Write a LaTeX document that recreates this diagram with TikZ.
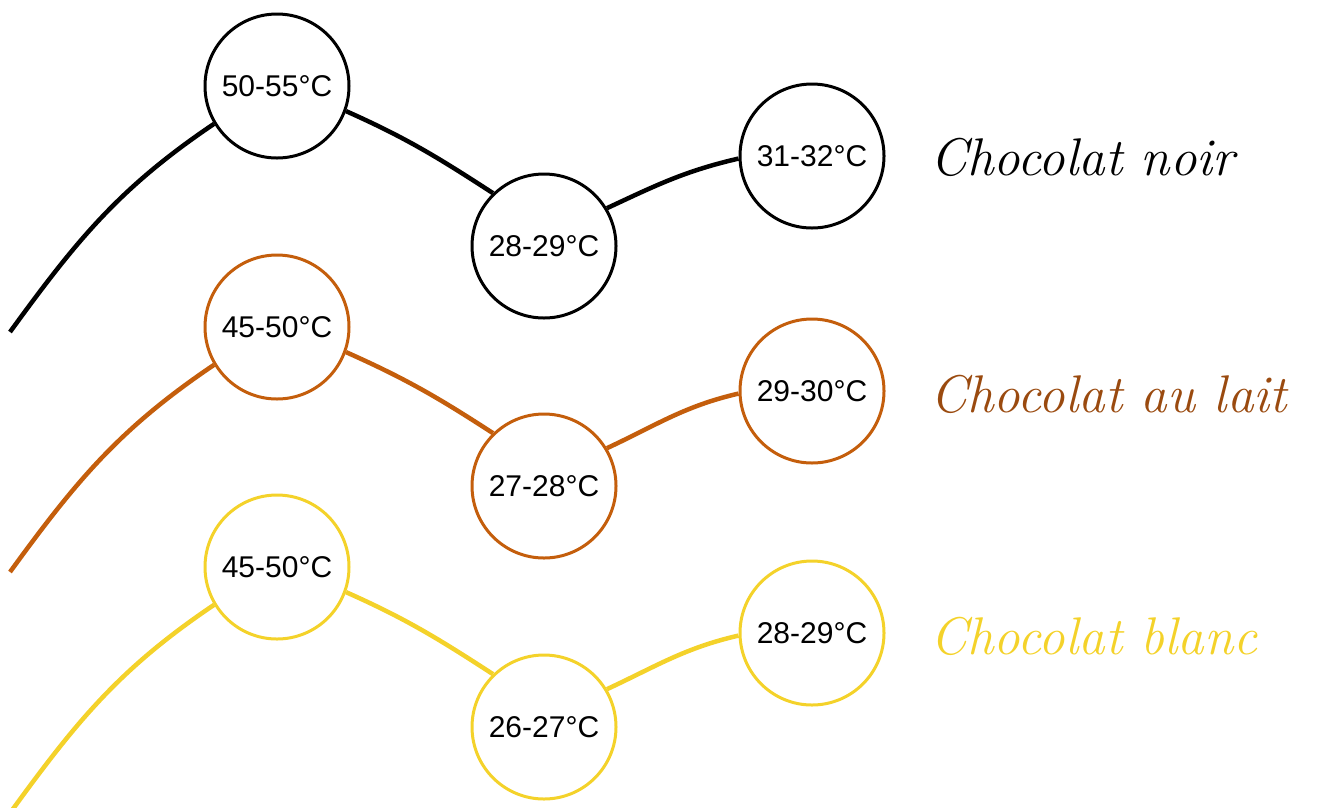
\documentclass[tikz,border=0pt]{standalone}
\usepackage{fontspec}
\setsansfont{Liberation Sans}
\definecolor{noir}{HTML}{000000}
\definecolor{lait}{HTML}{C45E0C}
\definecolor{laittxt}{HTML}{9A4A0F}
\definecolor{blanc}{HTML}{F4D22A}
\begin{document}
\begin{tikzpicture}[x=1pt,y=-1pt,
  temp/.style={circle,draw,line width=3pt,minimum size=144pt,inner sep=0pt,fill=white,
    text=black,font=\sffamily\fontsize{30}{34}\selectfont},
  link/.style={line width=4.5pt},
  lbl/.style={anchor=west,inner sep=0pt,font=\itshape\fontsize{53}{56}\selectfont}]
\useasboundingbox (0,0) rectangle (1335,807);
% noir
\coordinate (s1) at (10,332);
\node[temp,draw=noir] (a1) at (277,86) {50-55°C};
\node[temp,draw=noir] (a2) at (544,246) {28-29°C};
\node[temp,draw=noir] (a3) at (812,156) {31-32°C};
\draw[link,noir] (s1) to[out=54,in=214] (a1.211);
\draw[link,noir] (a1.-20) to[out=-24,in=147] (a2.134);
\draw[link,noir] (a2.31) to[out=25,in=193] (a3.182);
\node[lbl,text=noir] (ln) at (930,157) {Chocolat noir};
% lait
\coordinate (s2) at (10,572);
\node[temp,draw=lait] (b1) at (277,327) {45-50°C};
\node[temp,draw=lait] (b2) at (544,486) {27-28°C};
\node[temp,draw=lait] (b3) at (812,391) {29-30°C};
\draw[link,lait] (s2) to[out=54,in=214] (b1.211);
\draw[link,lait] (b1.-20) to[out=-24,in=147] (b2.134);
\draw[link,lait] (b2.31) to[out=25,in=193] (b3.182);
\node[lbl,text=laittxt] (ll) at (930,394) {Chocolat au lait};
% blanc
\coordinate (s3) at (10,813);
\node[temp,draw=blanc] (c1) at (277,567) {45-50°C};
\node[temp,draw=blanc] (c2) at (544,727) {26-27°C};
\node[temp,draw=blanc] (c3) at (812,633) {28-29°C};
\draw[link,blanc] (s3) to[out=54,in=214] (c1.211);
\draw[link,blanc] (c1.-20) to[out=-24,in=147] (c2.134);
\draw[link,blanc] (c2.31) to[out=25,in=193] (c3.182);
\node[lbl,text=blanc] (lb) at (930,636) {Chocolat blanc};
\end{tikzpicture}
\end{document}
